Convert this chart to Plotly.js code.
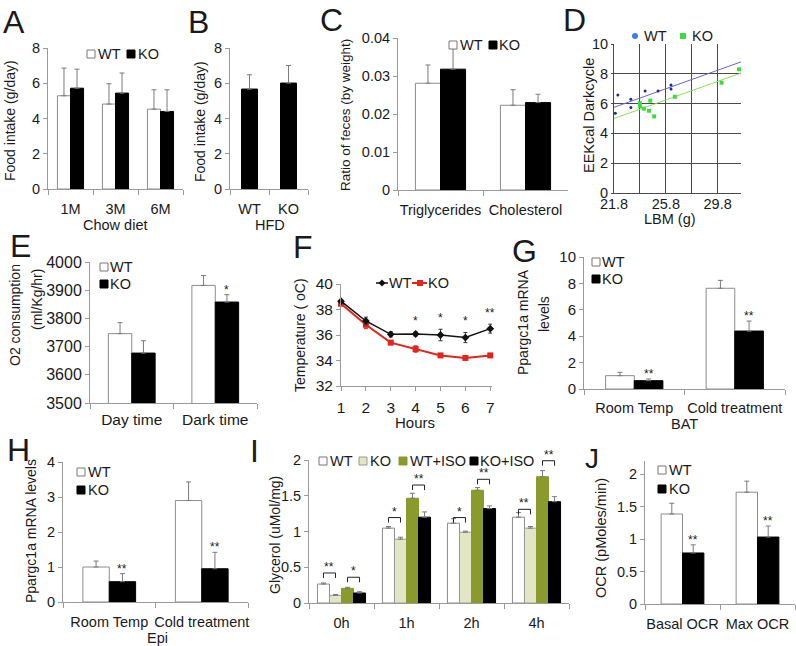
<!DOCTYPE html>
<html><head><meta charset="utf-8">
<script src="https://cdn.plot.ly/plotly-3.0.1.min.js"></script>
<style>html,body{margin:0;padding:0;background:#fff}#chart{width:796px;height:646px}</style>
</head><body><div id="chart"></div>
<script>
// ---------------- DATA ----------------
// A: food intake, chow diet
const aCats = ['1M', '3M', '6M'];
const aWT = [5.29, 4.82, 4.53];
const aWTerr = [1.57, 1.15, 1.10];
const aKO = [5.72, 5.44, 4.40];
const aKOerr = [1.08, 1.14, 1.23];
// B: food intake, HFD
const bCats = ['WT', 'KO'];
const bVals = [5.67, 6.01];
const bErr = [0.81, 1.00];
// C: feces ratio
const cCats = ['Triglycerides', 'Cholesterol'];
const cWT = [0.0281, 0.0223];
const cWTerr = [0.0048, 0.0041];
const cKO = [0.0318, 0.0230];
const cKOerr = [0.0054, 0.0022];
// D: EE vs LBM scatter
const dWTx = [21.9, 22.1, 23.1, 23.1, 23.8, 24.2, 25.2, 26.2, 26.2];
const dWTy = [5.35, 6.58, 6.30, 5.73, 5.80, 6.85, 6.85, 7.25, 6.98];
const dKOx = [23.8, 23.8, 24.1, 24.6, 24.5, 24.9, 26.5, 30.1, 31.45];
const dKOy = [6.02, 5.85, 5.66, 6.20, 5.52, 5.14, 6.46, 7.40, 8.30];
const dFitX = [21.8, 31.6];
const dWTfit = [5.75, 8.80];
const dKOfit = [5.00, 8.05];
const dTickVals = [21.8, 23.8, 25.8, 27.8, 29.8];
const dTickText = ['21.8', '', '25.8', '', '29.8'];
// E: O2 consumption
const eCats = ['Day time', 'Dark time'];
const eWT = [3746, 3917];
const eWTerr = [39, 35];
const eKO = [3677, 3858];
const eKOerr = [44, 26];
const eSig = ['', '*'];
// F: temperature
const fHours = [1, 2, 3, 4, 5, 6, 7];
const fWT = [38.65, 37.10, 36.05, 36.08, 36.00, 35.80, 36.50];
const fWTerr = [0.10, 0.30, 0.20, 0.15, 0.45, 0.40, 0.35];
const fKO = [38.45, 36.80, 35.40, 34.90, 34.40, 34.20, 34.40];
const fKOerr = [0.10, 0.30, 0.10, 0.25, 0.10, 0.10, 0.10];
const fSig = ['', '', '', '*', '*', '*', '**'];
// G: BAT Ppargc1a
const gCats = ['Room Temp', 'Cold treatment'];
const gWT = [1.01, 7.63];
const gWTerr = [0.25, 0.60];
const gKO = [0.63, 4.39];
const gKOerr = [0.13, 0.76];
const gSig = ['**', '**'];
// H: Epi Ppargc1a
const hCats = ['Room Temp', 'Cold treatment'];
const hWT = [1.00, 2.90];
const hWTerr = [0.17, 0.53];
const hKO = [0.58, 0.95];
const hKOerr = [0.23, 0.47];
const hSig = ['**', '**'];
// I: glycerol release
const iCats = ['0h', '1h', '2h', '4h'];
const iWT = [0.265, 1.047, 1.116, 1.200];
const iWTerr = [0.015, 0.023, 0.064, 0.065];
const iKO = [0.107, 0.893, 0.990, 1.047];
const iKOerr = [0.013, 0.027, 0.015, 0.023];
const iWTISO = [0.205, 1.465, 1.577, 1.766];
const iWTISOerr = [0.015, 0.070, 0.037, 0.085];
const iKOISO = [0.140, 1.200, 1.320, 1.417];
const iKOISOerr = [0.018, 0.074, 0.038, 0.070];
const iSigPlain = ['**', '*', '*', '**'];
const iSigISO = ['*', '**', '**', '**'];
const iBracketPlain = [0.42, 1.195, 1.195, 1.31];
const iBracketISO = [0.36, 1.65, 1.73, 1.99];
// J: OCR
const jCats = ['Basal OCR', 'Max OCR'];
const jWT = [1.385, 1.72];
const jWTerr = [0.165, 0.17];
const jKO = [0.785, 1.03];
const jKOerr = [0.125, 0.17];
const jSig = ['**', '**'];

// ---------------- HELPERS ----------------
const W = 796, H = 646;
const fx = p => p / W, fy = p => 1 - p / H;
const FONT = 'Liberation Sans, Arial, Helvetica, sans-serif';
const TXT = '#1a1a1a', AX = '#9a9a9a', ERR = '#7a7a7a';
const TICK = 14.5;
const traces = [], annotations = [], shapes = [];
const layout = {
  width: W, height: H, margin: {l: 0, r: 0, t: 0, b: 0}, showlegend: false,
  barmode: 'overlay', paper_bgcolor: '#fff', plot_bgcolor: 'rgba(0,0,0,0)',
  font: {family: FONT, size: TICK, color: TXT}, annotations, shapes
};
const sub = n => n === 1 ? '' : String(n);
function axes(n, x0, x1, yTop, yBot, xo, yo) {
  const s = sub(n);
  const base = {showline: true, linecolor: AX, linewidth: 1, ticks: 'outside', tickcolor: AX, tickwidth: 1,
    showgrid: false, zeroline: false, fixedrange: true, automargin: false, tickangle: 0,
    tickfont: {family: FONT, size: TICK, color: TXT}};
  layout['xaxis' + s] = Object.assign({}, base, {domain: [fx(x0), fx(x1)], anchor: 'y' + s, ticklen: 5}, xo);
  layout['yaxis' + s] = Object.assign({}, base, {domain: [fy(yBot), fy(yTop)], anchor: 'x' + s, ticklen: 4}, yo);
}
function catX(cats, standoff) {
  return {type: 'category', categoryorder: 'array', categoryarray: cats, range: [-0.5, cats.length - 0.5],
    tickson: 'boundaries', ticklabelstandoff: standoff === undefined ? 7 : standoff, tickangle: 0};
}
function barGroup(n, cats, series, gap) {
  const s = sub(n), k = series.length, w = (1 - gap) / k;
  series.forEach((ser, i) => {
    const t = {type: 'bar', x: cats, y: ser.y, width: w, offset: -(1 - gap) / 2 + i * w,
      xaxis: 'x' + s, yaxis: 'y' + s, hoverinfo: 'skip',
      marker: {color: ser.fill, line: {color: ser.line, width: 1}}};
    if (ser.err) t.error_y = {type: 'data', symmetric: false, array: ser.err, arrayminus: ser.err.map(() => 0),
      color: ERR, thickness: 1, width: 2.5};
    traces.push(t);
  });
  return series.map((ser, i) => -(1 - gap) / 2 + (i + 0.5) * w);
}
function star(n, x, y, text, shift) {
  if (!text) return;
  annotations.push({xref: 'x' + sub(n), yref: 'y' + sub(n), x, y, text, showarrow: false,
    yanchor: 'bottom', yshift: shift === undefined ? -4 : shift, font: {family: FONT, size: 12, color: TXT}});
}
function ptext(px, py, text, size, anchor, angle) {
  annotations.push({xref: 'paper', yref: 'paper', x: fx(px), y: fy(py), text, showarrow: false,
    xanchor: anchor || 'center', yanchor: 'middle', textangle: angle || 0,
    font: {family: FONT, size: size || TICK, color: TXT}});
}
function vtitle(px, py, text, size) { ptext(px, py, text, size || 14, 'center', -90); }
function legBox(px, py, fill, line) {
  shapes.push({type: 'rect', xref: 'paper', yref: 'paper', x0: fx(px), x1: fx(px + 8), y0: fy(py + 4), y1: fy(py - 4),
    fillcolor: fill, line: {color: line, width: 1}, layer: 'above'});
}
function legText(px, py, text) { ptext(px - 2, py, text, 14.5, 'left'); }
function letter(px, py, text, size) { ptext(px - 2, py, text, size || 32, 'left'); }

const WHITE = {fill: '#ffffff', line: '#8c8c8c'};
const BLACK = {fill: '#000000', line: '#000000'};

// ---------------- A ----------------
axes(1, 48, 183, 48, 189, catX(aCats), {range: [0, 8], dtick: 2});
barGroup(1, aCats, [Object.assign({y: aWT, err: aWTerr}, WHITE), Object.assign({y: aKO, err: aKOerr}, BLACK)], 0.42);
vtitle(10, 121, 'Food intake (g/day)');
ptext(115, 225, 'Chow diet');
legBox(87, 54, '#fff', '#777'); legText(98, 54, 'WT');
legBox(127, 54, '#000', '#000'); legText(138, 54, 'KO');
letter(3, 21.5, 'A');

// ---------------- B ----------------
axes(2, 230, 308, 48, 189, catX(bCats), {range: [0, 8], dtick: 2});
barGroup(2, bCats, [Object.assign({y: bVals, err: bErr}, BLACK)], 0.59);
vtitle(200, 121, 'Food intake (g/day)');
ptext(270, 225, 'HFD');
letter(188, 21.5, 'B');

// ---------------- C ----------------
axes(3, 398, 568, 38, 190, catX(cCats), {range: [0, 0.04], dtick: 0.01});
barGroup(3, cCats, [Object.assign({y: cWT, err: cWTerr}, WHITE), Object.assign({y: cKO, err: cKOerr}, BLACK)], 0.41);
vtitle(345, 115, 'Ratio of feces (by weight)', 13.5);
legBox(449, 45, '#fff', '#777'); legText(460, 45, 'WT');
legBox(489, 45, '#000', '#000'); legText(499, 45, 'KO');
letter(320, 20, 'C');

// ---------------- D ----------------
axes(4, 614, 741, 44, 193,
  {range: [21.8, 31.6], tickmode: 'array', tickvals: dTickVals, ticktext: dTickText, showgrid: true,
   gridcolor: '#4a4a4a', linecolor: '#4a4a4a', tickcolor: '#4a4a4a', ticks: '', ticklabelstandoff: -2},
  {range: [0, 10], dtick: 2, showgrid: true, gridcolor: '#4a4a4a', linecolor: '#4a4a4a', tickcolor: '#4a4a4a', ticklen: 2});
traces.push({type: 'scatter', mode: 'lines', x: dFitX, y: dWTfit, xaxis: 'x4', yaxis: 'y4', hoverinfo: 'skip',
  line: {color: '#6b62d6', width: 1}});
traces.push({type: 'scatter', mode: 'lines', x: dFitX, y: dKOfit, xaxis: 'x4', yaxis: 'y4', hoverinfo: 'skip',
  line: {color: '#86e05a', width: 1}});
traces.push({type: 'scatter', mode: 'markers', x: dWTx, y: dWTy, xaxis: 'x4', yaxis: 'y4', hoverinfo: 'skip',
  marker: {color: '#1c2a96', size: 3, symbol: 'circle'}});
traces.push({type: 'scatter', mode: 'markers', x: dKOx, y: dKOy, xaxis: 'x4', yaxis: 'y4', hoverinfo: 'skip',
  marker: {color: '#3ddc3d', size: 4, symbol: 'square'}});
vtitle(589, 116, 'EEKcal Darkcycle', 14.5);
ptext(670, 219, 'LBM (g)');
shapes.push({type: 'circle', xref: 'paper', yref: 'paper', x0: fx(632), x1: fx(638), y0: fy(39), y1: fy(33),
  fillcolor: '#3c7fe6', line: {width: 0}});
legText(644, 36, 'WT');
shapes.push({type: 'rect', xref: 'paper', yref: 'paper', x0: fx(680), x1: fx(686), y0: fy(39), y1: fy(33),
  fillcolor: '#3ddc3d', line: {width: 0}});
legText(692, 36, 'KO');
letter(563, 20, 'D');

// ---------------- E ----------------
axes(5, 90, 257, 262, 403, Object.assign(catX(eCats, 2), {tickfont: {family: FONT, size: 15.5, color: TXT}}),
  {range: [3500, 4000], dtick: 100, tickfont: {family: FONT, size: 16, color: TXT}});
const eOff = barGroup(5, eCats, [Object.assign({y: eWT, err: eWTerr}, WHITE), Object.assign({y: eKO, err: eKOerr}, BLACK)], 0.44);
eSig.forEach((s, i) => star(5, i + eOff[1], eKO[i] + eKOerr[i], s));
ptext(15, 315, 'O2 consumption', 14, 'center', -90);
ptext(37, 300, '(ml/Kg/hr)', 14, 'center', -90);
legBox(100, 267, '#fff', '#777'); legText(110, 267, 'WT');
legBox(100, 284, '#000', '#000'); legText(110, 284, 'KO');
letter(10, 246, 'E');

// ---------------- F ----------------
axes(6, 341, 492, 284, 386,
  {range: [1, 7.07], dtick: 1, ticklen: 4, ticklabelstandoff: 3, tickfont: {family: FONT, size: 15.5, color: TXT}},
  {range: [32, 40], dtick: 2, tickfont: {family: FONT, size: 15.5, color: TXT}});
traces.push({type: 'scatter', mode: 'lines+markers', x: fHours, y: fKO, xaxis: 'x6', yaxis: 'y6', hoverinfo: 'skip',
  cliponaxis: false, line: {color: '#e3231c', width: 2}, marker: {color: '#e3231c', size: 6, symbol: 'square'},
  error_y: {type: 'data', array: fKOerr, color: '#e3231c', thickness: 1, width: 2}});
traces.push({type: 'scatter', mode: 'lines+markers', x: fHours, y: fWT, xaxis: 'x6', yaxis: 'y6', hoverinfo: 'skip',
  cliponaxis: false, line: {color: '#111', width: 1.5}, marker: {color: '#111', size: 6, symbol: 'diamond'},
  error_y: {type: 'data', array: fWTerr, color: '#333', thickness: 1, width: 2}});
fSig.forEach((s, i) => star(6, fHours[i], fWT[i] + fWTerr[i], s, 2));
vtitle(300, 335, 'Temperature ( oC)', 14);
ptext(415, 422, 'Hours', 15);
shapes.push({type: 'line', xref: 'paper', yref: 'paper', x0: fx(376), x1: fx(388), y0: fy(283), y1: fy(283),
  line: {color: '#111', width: 1.5}});
shapes.push({type: 'path', xref: 'paper', yref: 'paper',
  path: `M${fx(382)},${fy(279.5)} L${fx(385.5)},${fy(283)} L${fx(382)},${fy(286.5)} L${fx(378.5)},${fy(283)} Z`,
  fillcolor: '#111', line: {width: 0}});
legText(389, 283, 'WT');
shapes.push({type: 'line', xref: 'paper', yref: 'paper', x0: fx(412), x1: fx(427), y0: fy(283), y1: fy(283),
  line: {color: '#e3231c', width: 2}});
shapes.push({type: 'rect', xref: 'paper', yref: 'paper', x0: fx(417), x1: fx(423), y0: fy(286), y1: fy(280),
  fillcolor: '#e3231c', line: {width: 0}});
legText(428, 283, 'KO');
letter(293, 247, 'F');

// ---------------- G ----------------
axes(7, 584, 785, 257, 389, catX(gCats, 6), {range: [0, 10], dtick: 2, tickfont: {family: FONT, size: 15, color: TXT}});
const gOff = barGroup(7, gCats, [Object.assign({y: gWT, err: gWTerr}, WHITE), Object.assign({y: gKO, err: gKOerr}, BLACK)], 0.43);
gSig.forEach((s, i) => star(7, i + gOff[1], gKO[i] + gKOerr[i], s));
ptext(523, 322, 'Ppargc1a mRNA', 14, 'center', -90);
ptext(544, 314, 'levels', 14, 'center', -90);
ptext(684, 424, 'BAT');
legBox(592, 262, '#fff', '#777'); legText(602, 262, 'WT');
legBox(592, 279, '#000', '#000'); legText(602, 279, 'KO');
letter(512, 251, 'G');

// ---------------- H ----------------
axes(8, 63, 248, 462, 602, catX(hCats), {range: [0, 4], dtick: 1});
const hOff = barGroup(8, hCats, [Object.assign({y: hWT, err: hWTerr}, WHITE), Object.assign({y: hKO, err: hKOerr}, BLACK)], 0.43);
hSig.forEach((s, i) => star(8, i + hOff[1], hKO[i] + hKOerr[i], s));
vtitle(31, 531, 'Ppargc1a mRNA levels', 14);
ptext(157, 638, 'Epi');
legBox(77, 472, '#fff', '#777'); legText(88, 472, 'WT');
legBox(77, 490, '#000', '#000'); legText(88, 490, 'KO');
letter(7, 450, 'H');

// ---------------- I ----------------
axes(9, 309, 569, 460, 603, catX(iCats), {range: [0, 2], dtick: 0.5});
const iOff = barGroup(9, iCats, [
  Object.assign({y: iWT, err: iWTerr}, WHITE),
  {y: iKO, err: iKOerr, fill: '#e1e7c5', line: '#9a9a9a'},
  {y: iWTISO, err: iWTISOerr, fill: '#8a9a2c', line: '#8a9a2c'},
  Object.assign({y: iKOISO, err: iKOISOerr}, BLACK)], 0.26);
function bracket(i, a, b, yv, txt) {
  const x0 = i + iOff[a], x1 = i + iOff[b], d = 0.07;
  const L = {color: '#222', width: 1};
  shapes.push({type: 'line', xref: 'x9', yref: 'y9', x0, x1, y0: yv, y1: yv, line: L});
  shapes.push({type: 'line', xref: 'x9', yref: 'y9', x0, x1: x0, y0: yv - d, y1: yv, line: L});
  shapes.push({type: 'line', xref: 'x9', yref: 'y9', x0: x1, x1, y0: yv - d, y1: yv, line: L});
  star(9, (x0 + x1) / 2, yv, txt, -3);
}
iCats.forEach((c, i) => {
  bracket(i, 0, 1, iBracketPlain[i], iSigPlain[i]);
  bracket(i, 2, 3, iBracketISO[i], iSigISO[i]);
});
vtitle(275, 535, 'Glycerol (uMol/mg)', 14);
legBox(319, 461, '#fff', '#777'); legText(330, 461, 'WT');
legBox(359, 461, '#e1e7c5', '#9a9a9a'); legText(370, 461, 'KO');
legBox(399, 461, '#8a9a2c', '#8a9a2c'); legText(410, 461, 'WT+ISO');
legBox(470, 461, '#000', '#000'); legText(480, 461, 'KO+ISO');
letter(250, 451, 'I');

// ---------------- J ----------------
axes(10, 645, 795, 461, 604, catX(jCats), {range: [0, 2.2], dtick: 0.5});
const jOff = barGroup(10, jCats, [Object.assign({y: jWT, err: jWTerr}, WHITE), Object.assign({y: jKO, err: jKOerr}, BLACK)], 0.43);
jSig.forEach((s, i) => star(10, i + jOff[1], jKO[i] + jKOerr[i], s));
vtitle(601, 538, 'OCR (pMoles/min)', 14.5);
legBox(658, 470, '#fff', '#777'); legText(669, 470, 'WT');
legBox(658, 489, '#000', '#000'); legText(669, 489, 'KO');
letter(585, 458, 'J', 28);

Plotly.newPlot('chart', traces, layout, {displayModeBar: false, staticPlot: true});
</script>
</body></html>
